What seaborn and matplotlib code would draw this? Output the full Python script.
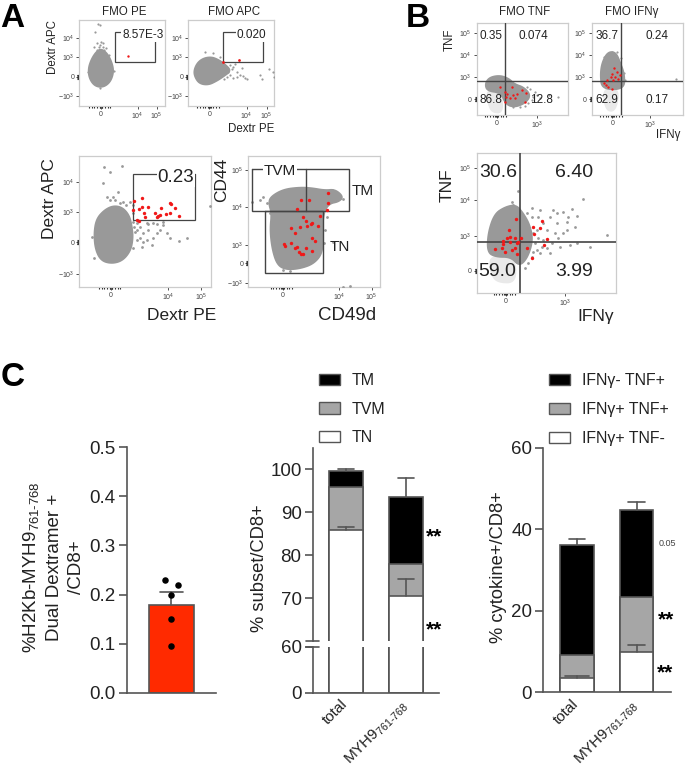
import matplotlib
matplotlib.use("Agg")
import matplotlib.pyplot as plt
from matplotlib.patches import Patch
from matplotlib.transforms import ScaledTranslation
import numpy as np
import pandas as pd
import seaborn as sns

sns.set_theme(style="white")
plt.rcParams['font.family'] = ['Liberation Sans', 'DejaVu Sans']
plt.rcParams['mathtext.fontset'] = 'custom'
plt.rcParams['mathtext.rm'] = 'Liberation Sans'
plt.rcParams['mathtext.it'] = 'Liberation Sans'
plt.rcParams['mathtext.default'] = 'regular'

W, H = 685, 769
GRAY = '#999999'
RED = '#f01818'
DARK = '#444444'
TXT = '#222222'

# ---- Flow panels: events, in display channels ----
a1_cloud = [(303,146),(322,160),(336,188),(341,215),(333,242),(317,258),(298,262),(280,254),(267,232),(265,205),(274,178),(288,156)]
a1_sparse = [(295,73),(300,75),(285,95),(302,125),(290,130),(310,128),(283,140),(318,145),(327,165),(296,140),(308,140),(300,135),(312,150),(290,150),(342,212),(265,215),(300,263)]
a1_red = [(385,167)]

a2_cloud = [(612,174),(635,171),(655,179),(674,192),(694,212),(670,230),(650,243),(625,255),(598,251),(584,230),(582,210),(593,187)]
a2_sparse = [(615,155),(640,160),(660,170),(690,195),(700,200),(710,215),(720,225),(735,235),(690,225),(700,235),(672,238),(685,215),(725,205),(740,238),(780,225),(785,238),(808,208),(820,215),(822,232),(705,192),(655,185),(695,208),(730,228),(712,232),(680,232)]
a2_red = [(670,186),(717,180)]

a3_cloud = [(313,630),(340,617),(367,622),(388,646),(396,680),(399,715),(392,752),(368,782),(335,791),(303,782),(286,748),(282,700),(289,657)]
a3_sparse = [(313,500),(365,497),(330,515),(310,548),(322,590),(340,590),(355,575),(345,600),(370,605),(390,605),(400,615),(400,640),(410,670),(420,680),(440,670),(460,670),(470,672),(490,675),(480,690),(500,700),(445,690),(430,700),(420,715),(440,720),(460,715),(470,700),(455,735),(425,740),(410,720),(405,695),(400,745),(537,722),(560,715),(510,715),(630,618),(275,712),(282,775),(490,665),(445,672),(330,600),(360,610),(378,615),(398,665),(402,680),(412,690),(430,725)]
a3_red = [(403,603),(427,593),(443,621),(425,620),(418,628),(398,630),(433,640),(412,660),(418,662),(465,640),(475,648),(482,625),(510,610),(513,612),(525,625),(510,640),(498,643),(537,648),(435,650),(470,650),(480,645)]

a4_cloud = [(812,590),(850,568),(900,562),(935,564),(975,571),(1005,568),(1030,590),(1017,605),(987,611),(970,640),(968,700),(968,758),(942,791),(900,806),(858,809),(832,795),(817,750),(810,690),(815,640),(806,610)]
a4_sparse = [(757,605),(780,600),(790,590),(800,610),(965,570),(995,570),(1020,595),(980,650),(975,690),(972,730),(1000,725),(1050,858),(1030,860),(870,812),(850,810),(810,640),(1015,582),(1028,598)]
a4_red = [(985,580),(903,600),(927,600),(983,610),(892,627),(980,630),(960,648),(910,650),(917,662),(937,670),(933,673),(955,678),(872,685),(920,677),(900,682),(885,700),(935,713),(945,722),(853,733),(855,738),(872,730),(890,742),(885,745),(918,743),(935,752),(897,755),(903,762),(908,762)]

b1_cloud = [(255,252),(268,232),(300,226),(327,236),(343,252),(372,262),(392,285),(378,308),(345,322),(318,314),(302,278),(262,273)]
b1_pale = [(258,268),(305,268),(312,340),(275,340),(262,310)]
b1_sparse = [(390,268),(400,290),(385,310),(375,318),(420,295),(447,285),(475,290),(360,320),(340,322),(405,275),(380,262),(395,300),(410,285)]
b1_red = [(315,275),(322,283),(318,290),(330,295),(340,285),(345,295),(352,283),(365,270),(378,280),(375,305),(315,305),(300,262),(335,262)]

b2_cloud = [(623,156),(647,156),(661,188),(674,225),(672,268),(606,268),(601,225),(606,188)]
b2_pale = [(606,262),(660,262),(650,335),(615,335)]
b2_sparse = [(635,156),(672,220),(674,240),(828,238),(650,155),(610,255),(612,170),(662,175)]
b2_red = [(622,240),(632,232),(637,222),(642,205),(645,230),(655,238),(660,225),(625,262),(635,268),(612,250),(650,215),(618,255),(640,240)]

b3_cloud = [(283,642),(315,621),(347,614),(368,637),(389,673),(399,720),(383,773),(358,799),(333,771),(288,771),(262,757),(264,700)]
b3_pale = [(266,765),(345,765),(352,850),(290,850),(270,820)]
b3_sparse = [(355,572),(335,605),(340,615),(395,625),(420,630),(460,630),(490,635),(515,628),(548,597),(530,648),(500,665),(470,670),(450,650),(430,670),(410,690),(440,690),(465,700),(500,690),(525,680),(490,700),(620,705),(570,740),(530,730),(510,735),(480,740),(455,730),(440,745),(420,760),(400,755),(385,790),(405,730),(430,720),(450,760),(395,650),(415,650),(380,640),(470,640),(505,650),(475,715),(400,700),(415,715),(425,740),(410,750),(395,770),(375,805)]
b3_red = [(347,657),(327,690),(330,712),(320,715),(310,722),(345,715),(362,715),(350,730),(330,725),(308,732),(355,727),(345,745),(305,745),(315,755),(285,748),(335,750),(382,745),(350,762),(395,775),(398,680),(425,662),(420,685),(402,703),(440,718),(432,735)]

# ---- Bar panels ----
dextr_mean = 0.179
dextr_err = 0.026
dextr_points = [0.23, 0.22, 0.2, 0.15, 0.096]

groups = ['total', 'MYH9$_{\\text{761-768}}$']
tn_vals = [86.0, 70.5]
tvm_vals = [10.0, 7.6]
tm_vals = [3.7, 15.4]
subset_err_top = [100.2, 97.9]
subset_err_tn = [86.7, 74.6]

ifn_pos_tnf_neg = [3.6, 10.0]
ifn_pos_tnf_pos = [5.55, 13.5]
ifn_neg_tnf_pos = [26.95, 21.2]
cyto_err_top = [37.7, 46.7]
cyto_err_low = [3.9, 11.6]


def axpx(l, t, r, b, **kw):
    """Axes from reference pixel edges."""
    return fig.add_axes([l / W, 1 - b / H, (r - l) / W, (b - t) / H], **kw)


def text_px(x, y, s, **kw):
    kw.setdefault('color', TXT)
    fig.text(x / W, 1 - y / H, s, **kw)


def pts(lst):
    return pd.DataFrame(lst, columns=['x', 'y'])


def rounded(outline, n=3):
    """Round the corners of a hand-read outline for the filled event cloud."""
    p = np.array(outline, float)
    for _ in range(n):
        q = np.roll(p, -1, axis=0)
        p = np.column_stack([0.75 * p + 0.25 * q, 0.25 * p + 0.75 * q]).reshape(-1, 2)
    return p


def flow(box, off, xt, yt, cloud, sparse, red, pale=None, s=3, rs=5, tick_fs=5):
    x0, y0, x1, y1 = box
    ax = axpx(off + x0 / 3, y0 / 3, off + x1 / 3, y1 / 3)
    ax.set_xlim(x0, x1)
    ax.set_ylim(y1, y0)
    if pale is not None:
        ax.fill(*rounded(pale).T, color='#e9e9e9', lw=0, zorder=1)
    ax.fill(*rounded(cloud).T, color=GRAY, lw=1.2, zorder=2)
    sns.scatterplot(data=pts(sparse), x='x', y='y', ax=ax, color=GRAY, s=s, linewidth=0, zorder=3)
    sns.scatterplot(data=pts(red), x='x', y='y', ax=ax, color=RED, s=rs, linewidth=0, zorder=5)
    ax.set_xlabel('')
    ax.set_ylabel('')
    ax.set_xticks(list(xt.keys()))
    ax.set_xticklabels(list(xt.values()), fontsize=tick_fs, color=DARK)
    ax.set_yticks(list(yt.keys()))
    ax.set_yticklabels(list(yt.values()), fontsize=tick_fs, color=DARK)
    ax.tick_params(left=True, bottom=True, length=2, width=0.6, pad=1.5, color='#333333')
    for sp in ax.spines.values():
        sp.set_color('#cccccc')
        sp.set_linewidth(0.9)
    zx = [k for k, v in xt.items() if v == '0'][0]
    zy = [k for k, v in yt.items() if v == '0'][0]
    ax.set_xticks([zx + d for d in (-36, -28, -20, -12, -4, -2, 2, 4, 12, 20, 28)], minor=True)
    ax.set_yticks([zy + d for d in (-6, -4, -2, 2, 4, 6)], minor=True)
    ax.tick_params(which='minor', left=True, bottom=True, length=1.5, width=0.8, color='#222222')
    return ax


def gate(ax, xs, ys, lw=0.9):
    ax.plot(xs, ys, color='#444444', lw=lw, zorder=4, solid_joinstyle='miter')


def label(ax, x, y, s, fs, bg=False):
    kw = dict(bbox=dict(fc='white', ec='none', pad=0.5)) if bg else {}
    ax.text(x, y, s, fontsize=fs, ha='center', va='center', color=TXT, zorder=6, **kw)


fig = plt.figure(figsize=(W / 100, H / 100), dpi=100)

# -------- Panel A --------
ax = flow((238, 60, 495, 318), 0, {303: '0', 413: '$10^{4}$', 470: '$10^{5}$'},
          {288: '$-10^{3}$', 230: '0', 172: '$10^{3}$', 113: '$10^{4}$'}, a1_cloud, a1_sparse, a1_red, s=2.5, rs=3)
gate(ax, [465, 465, 345, 345, 465], [97, 187, 187, 97, 97])
label(ax, 428, 105, '8.57E-3', 8.5, bg=True)

ax = flow((565, 60, 822, 318), 0, {628: '0', 740: '$10^{4}$', 800: '$10^{5}$'},
          {288: '$-10^{3}$', 230: '0', 172: '$10^{3}$', 113: '$10^{4}$'}, a2_cloud, a2_sparse, a2_red, s=2.5, rs=4)
gate(ax, [790, 790, 670, 670, 790], [97, 187, 187, 97, 97])
label(ax, 755, 105, '0.020', 8.5, bg=True)

ax = flow((238, 468, 632, 860), 0, {333: '0', 505: '$10^{4}$', 603: '$10^{5}$'},
          {822: '$-10^{3}$', 727: '0', 637: '$10^{3}$', 545: '$10^{4}$'}, a3_cloud, a3_sparse, a3_red, s=4, rs=6)
gate(ax, [585, 585, 398, 398, 585], [522, 660, 660, 522, 522])
label(ax, 528, 534, '0.23', 13.5, bg=True)

ax = flow((745, 468, 1140, 860), 0, {848: '0', 1018: '$10^{4}$', 1115: '$10^{5}$'},
          {848: '$-10^{3}$', 790: '0', 735: '$10^{3}$', 620: '$10^{4}$', 510: '$10^{5}$'}, a4_cloud, a4_sparse, a4_red, s=4, rs=6)
gate(ax, [757, 1048, 1048, 757, 757], [508, 508, 634, 634, 508], lw=1.0)
gate(ax, [918, 918], [508, 634], lw=1.0)
gate(ax, [795, 968, 968, 795, 795], [634, 634, 820, 820, 634], lw=1.0)
label(ax, 840, 514, 'TVM', 11, bg=True)
label(ax, 1087, 572, 'TM', 11, bg=True)
label(ax, 1020, 740, 'TN', 11)

text_px(124, 12, 'FMO PE', fontsize=8.3, ha='center', va='center')
text_px(234, 12, 'FMO APC', fontsize=8.3, ha='center', va='center')
text_px(53, 47, 'Dextr APC', fontsize=8.3, ha='center', va='center', rotation=90)
text_px(251, 129, 'Dextr PE', fontsize=8.3, ha='center', va='center')
text_px(50, 199, 'Dextr APC', fontsize=12.5, ha='center', va='center', rotation=90)
text_px(182, 315, 'Dextr PE', fontsize=12.5, ha='center', va='center')
text_px(222, 180, 'CD44', fontsize=12.5, ha='center', va='center', rotation=90)
text_px(347, 316, 'CD49d', fontsize=13.5, ha='center', va='center')

# -------- Panel B --------
b_off = 400
ax = flow((230, 70, 503, 345), b_off, {290: '0', 412: '$10^{3}$'},
          {100: '$10^{5}$', 165: '$10^{4}$', 232: '$10^{3}$', 298: '0'}, b1_cloud, b1_sparse, b1_red, pale=b1_pale, s=2.5, rs=3)
gate(ax, [316, 316], [70, 345], lw=1.0)
gate(ax, [230, 503], [243, 243], lw=1.0)
label(ax, 272, 107, '0.35', 8.5)
label(ax, 400, 107, '0.074', 8.5)
label(ax, 272, 300, '86.8', 8.5)
label(ax, 423, 300, '12.8', 8.5)

ax = flow((575, 70, 850, 345), b_off, {637: '0', 750: '$10^{3}$'},
          {100: '$10^{5}$', 165: '$10^{4}$', 232: '$10^{3}$', 298: '0'}, b2_cloud, b2_sparse, b2_red, pale=b2_pale, s=2.5, rs=3)
gate(ax, [663, 663], [70, 345], lw=1.0)
gate(ax, [575, 850], [243, 243], lw=1.0)
label(ax, 620, 107, '36.7', 8.5)
label(ax, 770, 107, '0.24', 8.5)
label(ax, 620, 300, '62.9', 8.5)
label(ax, 770, 300, '0.17', 8.5)

ax = flow((230, 460, 648, 878), b_off, {317: '0', 495: '$10^{3}$'},
          {505: '$10^{5}$', 600: '$10^{4}$', 708: '$10^{3}$', 812: '0'}, b3_cloud, b3_sparse, b3_red, pale=b3_pale, s=4, rs=6)
gate(ax, [361, 361], [460, 878], lw=1.2)
gate(ax, [230, 648], [725, 725], lw=1.2)
label(ax, 295, 517, '30.6', 14)
label(ax, 522, 517, '6.40', 14)
label(ax, 293, 813, '59.0', 14)
label(ax, 522, 813, '3.99', 14)

text_px(525, 12, 'FMO TNF', fontsize=8.3, ha='center', va='center')
text_px(632, 12, 'FMO IFNγ', fontsize=8.3, ha='center', va='center')
text_px(450, 40, 'TNF', fontsize=8.3, ha='center', va='center', rotation=90)
text_px(668, 135, 'IFNγ', fontsize=8.3, ha='center', va='center')
text_px(447, 185, 'TNF', fontsize=12.5, ha='center', va='center', rotation=90)
text_px(596, 317, 'IFNγ', fontsize=12.5, ha='center', va='center')

text_px(0, 27, 'A', fontsize=24, fontweight='bold', color='black', ha='left', va='baseline')
text_px(406, 27, 'B', fontsize=24, fontweight='bold', color='black', ha='left', va='baseline')
text_px(1, 386, 'C', fontsize=24, fontweight='bold', color='black', ha='left', va='baseline')

# -------- Panel C helpers --------
LINE = '#555555'
TICK_FS = 13.5
LAB_FS = 13.2
XT_FS = 11


def style_bar_ax(ax):
    sns.despine(ax=ax)
    for s in ('left', 'bottom'):
        ax.spines[s].set_color(LINE)
        ax.spines[s].set_linewidth(1.2)
    ax.tick_params(left=True, bottom=False, length=6, width=1.2, color=LINE, labelsize=TICK_FS, labelcolor=TXT, pad=2)
    ax.set_xlabel('')
    ax.set_ylabel('')


def stacked(ax, layers, colors):
    """Cumulative layers, tallest first, drawn by seaborn."""
    cum = np.cumsum(layers, axis=0)
    for row, c in zip(cum[::-1], colors[::-1]):
        sns.barplot(x=list(range(len(row))), y=row, ax=ax, color=c, saturation=1, width=0.56,
                    edgecolor=LINE, linewidth=1.2, legend=False)
    return cum


def errcap(ax, x, lo, hi, cw=0.14):
    ax.plot([x, x], [lo, hi], color=LINE, lw=1.2, zorder=6)
    ax.plot([x - cw, x + cw], [hi, hi], color=LINE, lw=1.2, zorder=6)


def slanted_labels(ax):
    ax.set_xticks([0, 1])
    ax.set_xticklabels(groups, rotation=45, ha='right', rotation_mode='anchor', fontsize=XT_FS, color=TXT)
    ax.tick_params(axis='x', pad=1)
    shift = ScaledTranslation(-6 / 100, 5 / 100, fig.dpi_scale_trans)
    for t in ax.get_xticklabels():
        t.set_transform(t.get_transform() + shift)


# -- Dextramer bar --
ax = axpx(380 / 3, 350 + 292 / 3, 648 / 3, 350 + 1028 / 3)
sns.barplot(x=[0], y=[dextr_mean], ax=ax, color='#ff2a00', saturation=1, width=0.5,
            edgecolor=LINE, linewidth=1.2)
ax.set_xlim(-0.5, 0.5)
ax.set_ylim(0, 0.5)
ax.set_yticks([0, .1, .2, .3, .4, .5])
ax.set_yticklabels(['0.0', '0.1', '0.2', '0.3', '0.4', '0.5'])
ax.set_xticks([])
style_bar_ax(ax)
errcap(ax, 0, dextr_mean, dextr_mean + dextr_err, cw=0.13)
dot_x = [-0.07, 0.07, 0, 0, 0]
sns.scatterplot(x=dot_x, y=dextr_points, ax=ax, color='black', s=22, linewidth=0, zorder=7, clip_on=False)
text_px(53, 567, '%H2Kb-MYH9$_{\\text{761-768}}$\nDual Dextramer +\n/CD8+', fontsize=13.5,
        rotation=90, ha='center', va='center', linespacing=1.4, multialignment='center')

# -- Subset stacked with broken axis --
layers = np.array([tn_vals, tvm_vals, tm_vals])
colors = ['white', '#a6a6a6', 'black']
L, R = 938 / 3, 1318 / 3
ax_t = axpx(L, 350 + 295 / 3, R, 350 + 873 / 3)
stacked(ax_t, layers, colors)
x_lo = 0 - (1038 - 938) / 180
x_hi = 0 + (1318 - 1038) / 180
ax_t.set_xlim(x_lo, x_hi)
ax_t.set_ylim(60.1, 104.9)
ax_t.set_yticks([70, 80, 90, 100])
style_bar_ax(ax_t)
ax_t.spines['bottom'].set_visible(False)
ax_t.set_xticks([])
errcap(ax_t, 0, 99.7, subset_err_top[0])
errcap(ax_t, 1, 93.5, subset_err_top[1])
errcap(ax_t, 0, 86.0, subset_err_tn[0])
errcap(ax_t, 1, 70.5, subset_err_tn[1])
ax_t.text(1.47, 84.4, '**', fontsize=15, fontweight='bold', color='black', ha='center', va='center')
ax_t.text(1.47, 62.6, '**', fontsize=15, fontweight='bold', color='black', ha='center', va='center')
ax_t.set_ylabel('% subset/CD8+', fontsize=LAB_FS, color=TXT)
ax_t.yaxis.set_label_coords((268 - L) / (R - L), 0.378)
ax_t.plot([-0.05, 0.05], [0, 0], transform=ax_t.transAxes, color=LINE, lw=1.2, clip_on=False)

ax_b = axpx(L, 350 + 890 / 3, R, 350 + 1028 / 3)
stacked(ax_b, layers, colors)
ax_b.set_xlim(x_lo, x_hi)
ax_b.set_ylim(0, 60)
ax_b.set_yticks([0, 60])
style_bar_ax(ax_b)
slanted_labels(ax_b)
ax_b.plot([-0.05, 0.05], [1, 1], transform=ax_b.transAxes, color=LINE, lw=1.2, clip_on=False)

leg1 = [Patch(fc='black', ec=LINE, label='TM'), Patch(fc='#a6a6a6', ec=LINE, label='TVM'),
        Patch(fc='white', ec=LINE, label='TN')]
fig.legend(handles=leg1, loc='upper left', bbox_to_anchor=(319 / W, 1 - 373 / H), frameon=False,
           fontsize=11.5, handlelength=1.31, handleheight=0.75, handletextpad=0.72, labelspacing=0.85,
           borderpad=0, borderaxespad=0, labelcolor=TXT)

# -- Cytokine stacked --
c_off = 440
layers2 = np.array([ifn_pos_tnf_neg, ifn_pos_tnf_pos, ifn_neg_tnf_pos])
ax = axpx(c_off + 310 / 3, 350 + 293 / 3, c_off + 693 / 3, 350 + 1027 / 3)
stacked(ax, layers2, colors)
ax.set_xlim(-(411 - 310) / 179, (693 - 411) / 179)
ax.set_ylim(0, 60)
ax.set_yticks([0, 20, 40, 60])
style_bar_ax(ax)
slanted_labels(ax)
errcap(ax, 0, 36.1, cyto_err_top[0])
errcap(ax, 1, 44.7, cyto_err_top[1])
errcap(ax, 0, 3.6, cyto_err_low[0], cw=0.2)
errcap(ax, 1, 10.0, cyto_err_low[1])
ax.text(1.51, 36.4, '0.05', fontsize=6.5, color=DARK, ha='center', va='center', clip_on=False)
ax.text(1.49, 17.8, '**', fontsize=15, fontweight='bold', color='black', ha='center', va='center', clip_on=False)
ax.text(1.47, 4.7, '**', fontsize=15, fontweight='bold', color='black', ha='center', va='center', clip_on=False)
ax.set_ylabel('% cytokine+/CD8+', fontsize=LAB_FS, color=TXT)
ax.yaxis.set_label_coords((507 - (c_off + 310 / 3)) / (383 / 3), 0.51)

leg2 = [Patch(fc='black', ec=LINE, label='IFNγ- TNF+'), Patch(fc='#a6a6a6', ec=LINE, label='IFNγ+ TNF+'),
        Patch(fc='white', ec=LINE, label='IFNγ+ TNF-')]
fig.legend(handles=leg2, loc='upper left', bbox_to_anchor=(549 / W, 1 - 373 / H), frameon=False,
           fontsize=11.4, handlelength=1.33, handleheight=0.75, handletextpad=0.75, labelspacing=0.88,
           borderpad=0, borderaxespad=0, labelcolor=TXT)

fig.savefig('out.png', dpi=100, facecolor='white')
